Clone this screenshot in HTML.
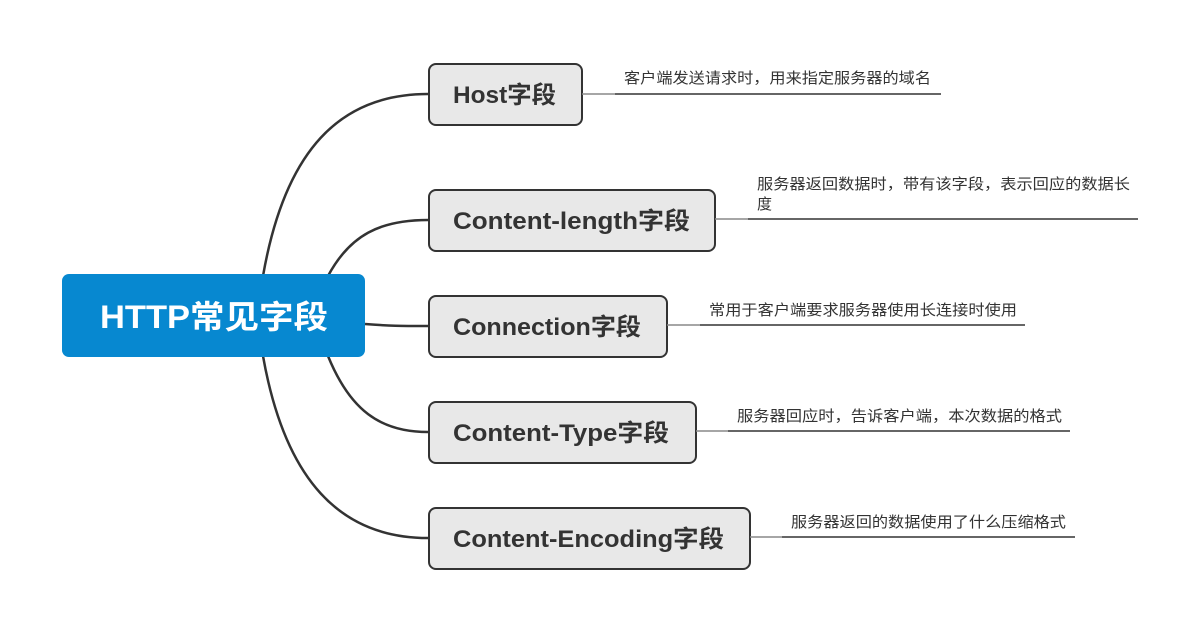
<!DOCTYPE html>
<html><head><meta charset="utf-8"><style>
html,body{margin:0;padding:0;background:#fff;}
svg{display:block;}
.n{font-family:"Liberation Sans","Noto Sans CJK SC",sans-serif;font-weight:bold;font-size:24px;fill:#333;}
.t{font-family:"Liberation Sans","Noto Sans CJK SC",sans-serif;font-size:15px;fill:#333;}
</style></head><body>
<svg width="1201" height="632" viewBox="0 0 1201 632" xmlns="http://www.w3.org/2000/svg">
<g fill="none" stroke="#333" stroke-width="2.5">
<path d="M263,276 C285,150 340,94 428,94"/>
<path d="M328,276 C350,235 380,220 428,220"/>
<path d="M365,324 C390,326 400,326 428,326"/>
<path d="M328,356 C350,410 380,432 428,432"/>
<path d="M263,356 C285,480 340,538 428,538"/>
</g>
<rect x="62" y="274" width="303" height="83" rx="7" fill="#0788d0"/>
<text x="100" y="328" textLength="228" lengthAdjust="spacingAndGlyphs" font-family="Liberation Sans,Noto Sans CJK SC,sans-serif" font-weight="bold" font-size="32" fill="#fff">HTTP常见字段</text>
<g fill="#e8e8e8" stroke="#333" stroke-width="2">
<rect x="429" y="64" width="153" height="61" rx="7"/>
<rect x="429" y="190" width="286" height="61" rx="7"/>
<rect x="429" y="296" width="238" height="61" rx="7"/>
<rect x="429" y="402" width="267" height="61" rx="7"/>
<rect x="429" y="508" width="321" height="61" rx="7"/>
</g>
<text class="n" x="453" y="103" textLength="103" lengthAdjust="spacingAndGlyphs">Host字段</text>
<text class="n" x="453" y="229" textLength="237" lengthAdjust="spacingAndGlyphs">Content-length字段</text>
<text class="n" x="453" y="335" textLength="188" lengthAdjust="spacingAndGlyphs">Connection字段</text>
<text class="n" x="453" y="441" textLength="216" lengthAdjust="spacingAndGlyphs">Content-Type字段</text>
<text class="n" x="453" y="547" textLength="271" lengthAdjust="spacingAndGlyphs">Content-Encoding字段</text>
<g stroke="#888" stroke-width="1.5">
<line x1="582" y1="94" x2="615" y2="94"/>
<line x1="715" y1="219" x2="748" y2="219"/>
<line x1="667" y1="325" x2="700" y2="325"/>
<line x1="696" y1="431" x2="728" y2="431"/>
<line x1="750" y1="537" x2="782" y2="537"/>
</g>
<g stroke="#333" stroke-width="1.5">
<line x1="615" y1="94" x2="941" y2="94"/>
<line x1="748" y1="219" x2="1138" y2="219"/>
<line x1="700" y1="325" x2="1025" y2="325"/>
<line x1="728" y1="431" x2="1070" y2="431"/>
<line x1="782" y1="537" x2="1075" y2="537"/>
</g>
<text class="t" x="624" y="83" textLength="307" lengthAdjust="spacingAndGlyphs">客户端发送请求时，用来指定服务器的域名</text>
<text class="t" x="757" y="189" textLength="373" lengthAdjust="spacingAndGlyphs">服务器返回数据时，带有该字段，表示回应的数据长</text>
<text class="t" x="757" y="209">度</text>
<text class="t" x="709" y="315" textLength="308" lengthAdjust="spacingAndGlyphs">常用于客户端要求服务器使用长连接时使用</text>
<text class="t" x="737" y="421" textLength="325" lengthAdjust="spacingAndGlyphs">服务器回应时，告诉客户端，本次数据的格式</text>
<text class="t" x="791" y="527" textLength="275" lengthAdjust="spacingAndGlyphs">服务器返回的数据使用了什么压缩格式</text>
</svg>
</body></html>
